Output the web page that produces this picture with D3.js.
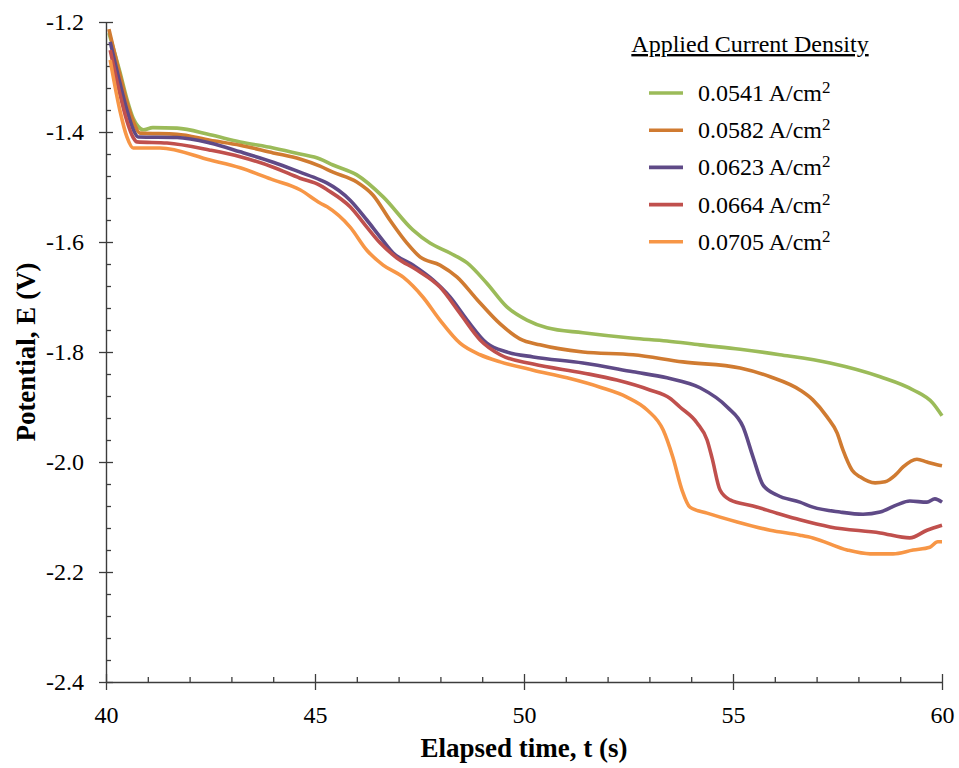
<!DOCTYPE html>
<html>
<head>
<meta charset="utf-8">
<script src="https://cdn.jsdelivr.net/npm/d3@7"></script>
<style>
  html, body { margin: 0; padding: 0; background: #fff; }
  svg { display: block; }
  text { font-family: "Liberation Serif", "Times New Roman", serif; fill: #000; }
</style>
</head>
<body>
<svg id="chart" width="959" height="768"></svg>
<script>
// Potential vs. elapsed time for five applied current densities
const seriesNames = ["0.0541", "0.0582", "0.0623", "0.0664", "0.0705"];
const seriesColors = ["#9BBB59", "#D07B31", "#5F4A87", "#C0504D", "#F79646"];

const xMajorTicks = [40, 45, 50, 55, 60];
const yMajorTicks = [-1.2, -1.4, -1.6, -1.8, -2.0, -2.2, -2.4];

// [time (s), potential (V)]
const cd0541 = [
  [40.07,-1.22],[40.33,-1.29],[40.50,-1.34],[40.65,-1.375],[40.77,-1.39],[40.89,-1.396],
  [41.12,-1.392],[41.70,-1.393],[42.49,-1.405],[43.21,-1.418],[44.00,-1.429],[44.64,-1.44],
  [45.12,-1.449],[45.43,-1.46],[46.00,-1.478],[46.63,-1.518],[47.34,-1.578],[47.75,-1.602],
  [48.23,-1.62],[48.64,-1.638],[49.11,-1.675],[49.59,-1.718],[50.07,-1.742],[50.55,-1.756],
  [51.41,-1.765],[52.61,-1.775],[53.42,-1.78],[54.21,-1.787],[55.17,-1.795],[56.12,-1.805],
  [57.32,-1.82],[58.52,-1.845],[59.31,-1.869],[59.78,-1.893],[60.00,-1.916]
];
const cd0582 = [
  [40.07,-1.213],[40.33,-1.295],[40.50,-1.345],[40.65,-1.38],[40.81,-1.402],[41.70,-1.404],
  [42.49,-1.415],[43.21,-1.424],[44.00,-1.438],[44.64,-1.449],[45.12,-1.462],[45.43,-1.473],
  [46.00,-1.491],[46.39,-1.515],[46.79,-1.56],[47.20,-1.602],[47.51,-1.627],[47.99,-1.642],
  [48.40,-1.664],[48.88,-1.705],[49.43,-1.749],[49.90,-1.776],[50.38,-1.787],[51.41,-1.80],
  [52.61,-1.805],[53.80,-1.818],[55.17,-1.829],[55.89,-1.845],[56.60,-1.869],[56.91,-1.887],
  [57.25,-1.918],[57.49,-1.947],[57.63,-1.978],[57.85,-2.015],[58.04,-2.027],[58.40,-2.038],
  [58.64,-2.036],[58.88,-2.024],[59.07,-2.009],[59.40,-1.995],[59.64,-2.0],[59.88,-2.005],
  [60.00,-2.007]
];
const cd0623 = [
  [40.10,-1.236],[40.33,-1.31],[40.50,-1.36],[40.65,-1.395],[40.77,-1.409],[41.70,-1.41],
  [42.49,-1.42],[43.21,-1.436],[44.00,-1.455],[44.64,-1.473],[45.12,-1.487],[45.29,-1.493],
  [45.84,-1.524],[46.24,-1.56],[46.56,-1.591],[46.87,-1.62],[47.34,-1.642],[47.82,-1.669],
  [48.23,-1.70],[48.64,-1.742],[49.11,-1.784],[49.59,-1.80],[50.22,-1.809],[51.41,-1.82],
  [52.61,-1.836],[53.42,-1.847],[54.21,-1.865],[54.86,-1.90],[55.24,-1.936],[55.48,-1.991],
  [55.72,-2.042],[56.05,-2.06],[56.60,-2.073],[56.91,-2.082],[57.56,-2.091],[58.11,-2.095],
  [58.52,-2.091],[58.92,-2.078],[59.23,-2.071],[59.64,-2.073],[59.83,-2.067],[60.00,-2.073]
];
const cd0664 = [
  [40.10,-1.251],[40.33,-1.33],[40.50,-1.38],[40.65,-1.41],[40.74,-1.418],[41.46,-1.42],
  [42.49,-1.433],[43.21,-1.445],[44.00,-1.464],[44.64,-1.484],[45.12,-1.497],[45.29,-1.505],
  [45.84,-1.536],[46.24,-1.573],[46.56,-1.602],[46.96,-1.629],[47.44,-1.651],[47.99,-1.682],
  [48.47,-1.73],[48.95,-1.778],[49.43,-1.805],[50.22,-1.822],[51.41,-1.838],[52.22,-1.851],
  [53.01,-1.869],[53.49,-1.884],[53.73,-1.90],[54.14,-1.929],[54.38,-1.96],[54.50,-1.993],
  [54.69,-2.051],[54.93,-2.069],[55.48,-2.08],[56.05,-2.093],[56.60,-2.105],[57.32,-2.118],
  [58.52,-2.129],[59.23,-2.138],[59.64,-2.124],[60.00,-2.115]
];
const cd0705 = [
  [40.10,-1.269],[40.33,-1.36],[40.50,-1.409],[40.65,-1.429],[41.29,-1.429],[42.49,-1.451],
  [43.21,-1.465],[44.00,-1.487],[44.64,-1.505],[45.12,-1.529],[45.29,-1.536],[45.84,-1.573],
  [46.24,-1.615],[46.63,-1.642],[47.11,-1.664],[47.58,-1.70],[47.99,-1.742],[48.47,-1.784],
  [48.95,-1.805],[49.43,-1.818],[50.22,-1.833],[51.03,-1.847],[51.82,-1.864],[52.46,-1.882],
  [52.94,-1.905],[53.33,-1.942],[53.56,-1.991],[53.78,-2.051],[53.97,-2.082],[54.38,-2.093],
  [55.10,-2.109],[55.89,-2.124],[56.60,-2.133],[56.91,-2.138],[57.73,-2.16],[58.28,-2.167],
  [58.83,-2.167],[59.31,-2.16],[59.71,-2.155],[59.90,-2.145],[60.00,-2.145]
];
const seriesData = [cd0541, cd0582, cd0623, cd0664, cd0705];

const svg = d3.select("#chart");
const plotLeft = 106, plotRight = 942, plotTop = 22, plotBottom = 682;

const x = d3.scaleLinear().domain([40, 60]).range([plotLeft, plotRight]);
const y = d3.scaleLinear().domain([-2.4, -1.2]).range([plotBottom, plotTop]);

const axisColor = "#3c3c3c";
const fmt = d => d.toFixed(1);

// minor tick values
const xMinor = d3.range(40, 60.001, 1).filter(v => !xMajorTicks.includes(Math.round(v)));
const yMinor = d3.range(0, 31).map(i => -2.4 + i * 0.04).filter(v => !yMajorTicks.some(m => Math.abs(m - v) < 1e-6));

function styleAxis(g) {
  g.select(".domain").attr("stroke", axisColor).attr("stroke-width", 1.4);
  g.selectAll(".tick line").attr("stroke", axisColor).attr("stroke-width", 1.3);
}

// Y axis: labelled major ticks on the outside
const gy = svg.append("g").attr("transform", `translate(${plotLeft},0)`)
  .call(d3.axisLeft(y).tickValues(yMajorTicks).tickFormat(fmt).tickSizeInner(7).tickSizeOuter(0).tickPadding(15));
styleAxis(gy);
gy.selectAll(".tick text").attr("font-size", 24).attr("font-family", "Liberation Serif").attr("fill", "#000");

// Y axis: inner part of major ticks and minor ticks
svg.append("g").attr("transform", `translate(${plotLeft},0)`)
  .call(d3.axisRight(y).tickValues(yMajorTicks).tickFormat("").tickSize(7).tickSizeOuter(0))
  .call(g => { g.select(".domain").remove(); styleAxis(g); });
svg.append("g").attr("transform", `translate(${plotLeft},0)`)
  .call(d3.axisRight(y).tickValues(yMinor).tickFormat("").tickSize(5).tickSizeOuter(0))
  .call(g => { g.select(".domain").remove(); styleAxis(g); });

// X axis
const gx = svg.append("g").attr("transform", `translate(0,${plotBottom})`)
  .call(d3.axisBottom(x).tickValues(xMajorTicks).tickFormat(d3.format("d")).tickSizeInner(8).tickSizeOuter(0).tickPadding(16));
styleAxis(gx);
gx.selectAll(".tick text").attr("font-size", 24).attr("font-family", "Liberation Serif").attr("fill", "#000");

svg.append("g").attr("transform", `translate(0,${plotBottom})`)
  .call(d3.axisTop(x).tickValues(xMajorTicks).tickFormat("").tickSize(8).tickSizeOuter(0))
  .call(g => { g.select(".domain").remove(); styleAxis(g); });
svg.append("g").attr("transform", `translate(0,${plotBottom})`)
  .call(d3.axisTop(x).tickValues(xMinor).tickFormat("").tickSize(5).tickSizeOuter(0))
  .call(g => { g.select(".domain").remove(); styleAxis(g); });

// Axis titles
svg.append("text")
  .attr("x", (plotLeft + plotRight) / 2).attr("y", 757)
  .attr("text-anchor", "middle").attr("font-size", 27).attr("font-weight", "bold")
  .text("Elapsed time, t (s)");
svg.append("text")
  .attr("transform", `translate(35,${(plotTop + plotBottom) / 2}) rotate(-90)`)
  .attr("text-anchor", "middle").attr("font-size", 27).attr("font-weight", "bold")
  .text("Potential, E (V)");

// Curves
const line = d3.line().curve(d3.curveMonotoneX).x(d => x(d[0])).y(d => y(d[1]));
svg.append("g").selectAll("path").data(seriesData).join("path")
  .attr("d", line)
  .attr("fill", "none")
  .attr("stroke", (d, i) => seriesColors[i])
  .attr("stroke-width", 3.6)
  .attr("stroke-linejoin", "round")
  .attr("stroke-linecap", "butt");

// Legend
const legend = svg.append("g");
legend.append("text")
  .attr("x", 750).attr("y", 52)
  .attr("text-anchor", "middle").attr("font-size", 24)
  .attr("text-decoration", "underline")
  .text("Applied Current Density");

const entries = legend.selectAll("g.entry").data(seriesNames).join("g")
  .attr("class", "entry")
  .attr("transform", (d, i) => `translate(0,${93 + i * 37.2})`);
entries.append("line")
  .attr("x1", 649).attr("x2", 683).attr("y1", 0).attr("y2", 0)
  .attr("stroke", (d, i) => seriesColors[i]).attr("stroke-width", 3.6);
const lt = entries.append("text")
  .attr("x", 698).attr("y", 8).attr("font-size", 24);
lt.append("tspan").text(d => d + " A/cm");
lt.append("tspan").attr("font-size", 17).attr("dy", -8).text("2");
</script>
</body>
</html>
